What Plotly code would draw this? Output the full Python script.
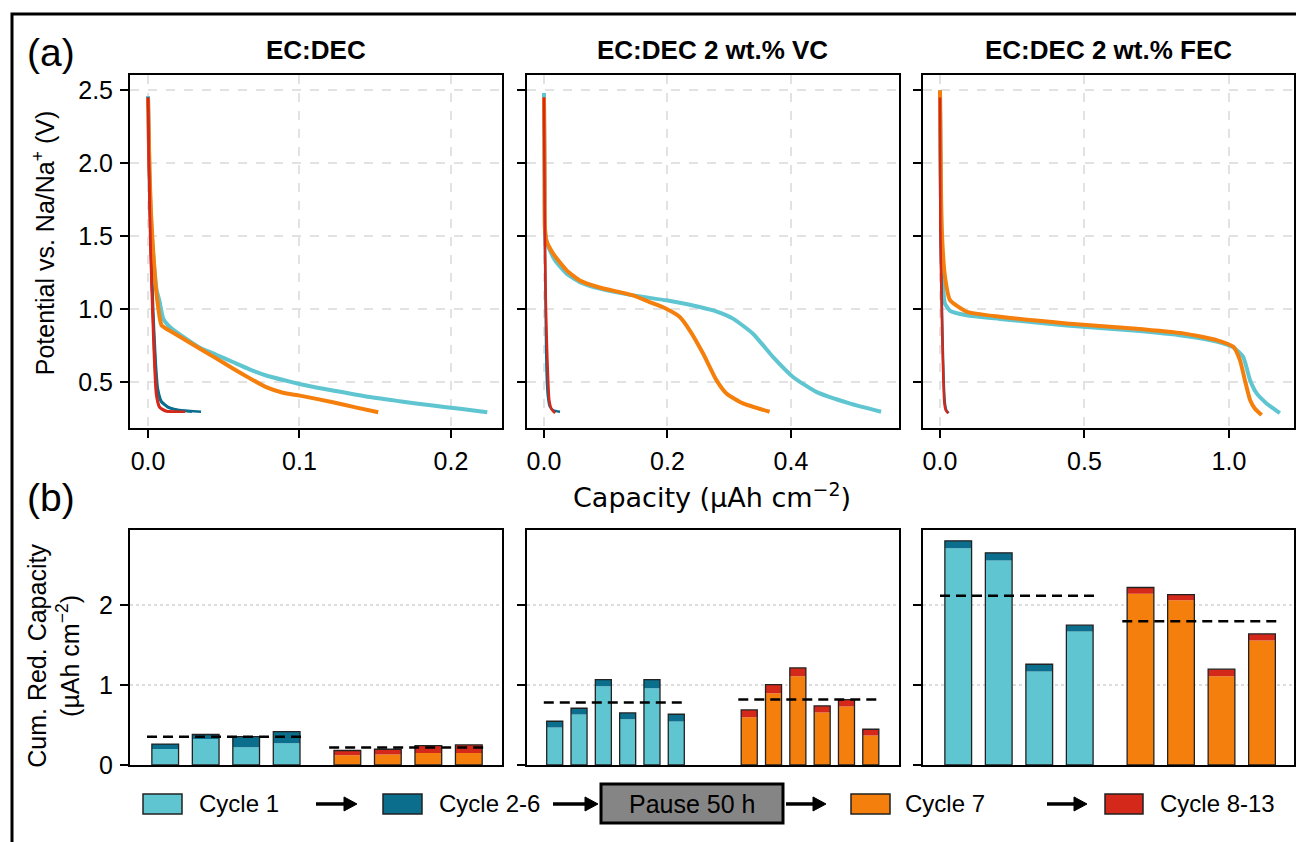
import plotly.graph_objects as go

W, H = 1296, 842
HE = 827  # effective vertical pixel scale observed in the rendered page
def px(x): return x / W
def py(y): return 1 - y / HE

CYAN = "#5ec5d1"; TEAL = "#0b6e8d"; ORANGE = "#f47f0c"; RED = "#d4281a"
FONT = "Liberation Sans, Arial, sans-serif"

titles = ["EC:DEC", "EC:DEC 2 wt.% VC", "EC:DEC 2 wt.% FEC"]

# ---------------- (a) potential profiles ----------------
# EC:DEC
p1_c1_cap = [0, 0.0004, 0.0008, 0.0014, 0.0024, 0.0040, 0.0057, 0.0075, 0.0101, 0.015, 0.025, 0.034, 0.045, 0.056, 0.067, 0.078, 0.09, 0.1, 0.111, 0.122, 0.144, 0.166, 0.188, 0.206, 0.224]
p1_c1_v   = [2.46, 2.25, 1.98, 1.75, 1.52, 1.30, 1.13, 1.06, 0.936, 0.875, 0.80, 0.74, 0.69, 0.64, 0.59, 0.548, 0.515, 0.49, 0.466, 0.445, 0.404, 0.372, 0.342, 0.32, 0.297]
p1_c7_cap = [0, 0.0005, 0.001, 0.002, 0.0035, 0.005, 0.0065, 0.008, 0.009, 0.02, 0.0343, 0.045, 0.0563, 0.067, 0.078, 0.089, 0.1003, 0.122, 0.137, 0.152]
p1_c7_v   = [2.443, 2.2, 1.95, 1.65, 1.38, 1.17, 1.03, 0.925, 0.89, 0.82, 0.731, 0.665, 0.594, 0.53, 0.468, 0.43, 0.41, 0.365, 0.33, 0.297]
p1_c26 = [
    ([0, 0.0008, 0.002, 0.0035, 0.005, 0.0065, 0.009, 0.014, 0.022, 0.035], [2.45, 2.0, 1.45, 0.98, 0.66, 0.46, 0.37, 0.33, 0.31, 0.30]),
    ([0, 0.0007, 0.0018, 0.0032, 0.0047, 0.006, 0.0085, 0.013, 0.02, 0.029], [2.45, 2.0, 1.45, 0.98, 0.66, 0.46, 0.37, 0.33, 0.31, 0.30]),
]
p1_c813 = [
    ([0, 0.0006, 0.0015, 0.0024, 0.004, 0.0057, 0.0079, 0.0123, 0.018, 0.0244], [2.45, 2.0, 1.5, 1.2, 0.74, 0.42, 0.33, 0.305, 0.30, 0.30]),
    ([0, 0.0006, 0.0014, 0.0022, 0.0037, 0.0053, 0.0074, 0.011, 0.015, 0.020], [2.45, 2.0, 1.5, 1.2, 0.74, 0.42, 0.33, 0.305, 0.30, 0.30]),
]
# EC:DEC 2 wt.% VC
p2_c1_cap = [0, 0.0005, 0.001, 0.0016, 0.0035, 0.007, 0.018, 0.0367, 0.0582, 0.0905, 0.1444, 0.1983, 0.2522, 0.28, 0.3061, 0.3385, 0.3708, 0.4032, 0.441, 0.4948, 0.546]
p2_c1_v   = [2.48, 2.2, 1.9, 1.55, 1.48, 1.43, 1.335, 1.244, 1.187, 1.142, 1.096, 1.062, 1.016, 0.985, 0.937, 0.834, 0.675, 0.538, 0.436, 0.357, 0.30]
p2_c7_cap = [0, 0.0005, 0.001, 0.0016, 0.004, 0.0151, 0.0367, 0.058, 0.09, 0.144, 0.171, 0.198, 0.22, 0.236, 0.2577, 0.2793, 0.2955, 0.3224, 0.3654]
p2_c7_v   = [2.45, 2.2, 1.9, 1.55, 1.47, 1.38, 1.267, 1.198, 1.15, 1.096, 1.05, 1.005, 0.948, 0.857, 0.698, 0.516, 0.425, 0.357, 0.30]
p2_c26 = [
    ([0, 0.0008, 0.0016, 0.0028, 0.004, 0.006, 0.009, 0.015, 0.026], [2.45, 1.9, 1.4, 0.95, 0.6, 0.42, 0.34, 0.31, 0.30]),
]
p2_c813 = [
    ([0, 0.0008, 0.0016, 0.0028, 0.0045, 0.0065, 0.0086, 0.012, 0.018], [2.45, 1.9, 1.46, 1.1, 0.8, 0.55, 0.38, 0.32, 0.29]),
]
# EC:DEC 2 wt.% FEC
p3_c1_cap = [0, 0.001, 0.003, 0.006, 0.011, 0.017, 0.035, 0.092, 0.2076, 0.438, 0.669, 0.842, 0.957, 1.015, 1.049, 1.073, 1.096, 1.13, 1.176]
p3_c1_v   = [2.5, 2.3, 1.8, 1.43, 1.15, 1.04, 0.99, 0.96, 0.935, 0.89, 0.855, 0.82, 0.78, 0.74, 0.676, 0.516, 0.425, 0.357, 0.29]
p3_c7_cap = [0, 0.001, 0.003, 0.0058, 0.0173, 0.0346, 0.0924, 0.2076, 0.438, 0.669, 0.842, 0.957, 1.015, 1.038, 1.055, 1.073, 1.09, 1.113]
p3_c7_v   = [2.5, 2.3, 1.9, 1.565, 1.223, 1.064, 0.984, 0.95, 0.904, 0.87, 0.836, 0.79, 0.744, 0.653, 0.516, 0.38, 0.32, 0.277]
p3_c26 = [
    ([0, 0.001, 0.005, 0.009, 0.013, 0.017, 0.022, 0.030], [2.45, 1.6, 1.2, 0.8, 0.5, 0.36, 0.31, 0.29]),
]
p3_c813 = [
    ([0, 0.001, 0.004, 0.008, 0.012, 0.015, 0.02, 0.028], [2.45, 1.6, 1.2, 0.8, 0.5, 0.36, 0.31, 0.29]),
]

profiles = [
    (p1_c1_cap, p1_c1_v, p1_c26, p1_c7_cap, p1_c7_v, p1_c813),
    (p2_c1_cap, p2_c1_v, p2_c26, p2_c7_cap, p2_c7_v, p2_c813),
    (p3_c1_cap, p3_c1_v, p3_c26, p3_c7_cap, p3_c7_v, p3_c813),
]
top_xticks = [[0, 0.1, 0.2], [0, 0.2, 0.4], [0, 0.5, 1.0]]
top_xranges = [[-0.0119, 0.2337], [-0.0275, 0.575], [-0.0588, 1.225]]
top_yticks = [0.5, 1.0, 1.5, 2.0, 2.5]

# ---------------- (b) cumulative reduction capacity ----------------
p1_cyc1   = [0.20, 0.325, 0.22, 0.27]
p1_cyc26  = [0.06, 0.055, 0.134, 0.147]
p1_cyc7   = [0.12, 0.13, 0.15, 0.15]
p1_cyc813 = [0.06, 0.066, 0.09, 0.10]
p2_cyc1   = [0.467, 0.63, 0.983, 0.571, 0.958, 0.542]
p2_cyc26  = [0.079, 0.078, 0.084, 0.079, 0.109, 0.091]
p2_cyc7   = [0.596, 0.896, 1.108, 0.654, 0.729, 0.367]
p2_cyc813 = [0.0915, 0.108, 0.1045, 0.0835, 0.088, 0.079]
p3_cyc1   = [2.708, 2.554, 1.167, 1.667]
p3_cyc26  = [0.092, 0.096, 0.091, 0.079]
p3_cyc7   = [2.1375, 2.058, 1.108, 1.554]
p3_cyc813 = [0.0795, 0.071, 0.088, 0.0835]

bars = [
    ([0, 1, 2, 3], p1_cyc1, p1_cyc26, [4.5, 5.5, 6.5, 7.5], p1_cyc7, p1_cyc813),
    ([0, 1, 2, 3, 4, 5], p2_cyc1, p2_cyc26, [8, 9, 10, 11, 12, 13], p2_cyc7, p2_cyc813),
    ([0, 1, 2, 3], p3_cyc1, p3_cyc26, [4.5, 5.5, 6.5, 7.5], p3_cyc7, p3_cyc813),
]
bot_xranges = [[-0.87, 8.32], [-1.14, 14.16], [-0.87, 8.29]]
bot_yticks = [0, 1, 2]

legend_labels = ["Cycle 1", "Cycle 2-6", "Cycle 7", "Cycle 8-13"]
pause_label = "Pause 50 h"

# ---------------- layout geometry (pixels) ----------------
xdom_px = [(130, 502), (527, 899), (923, 1294)]
top_px = (75, 427)
bot_px = (529, 764)

fig = go.Figure()

def axname(i):
    return "" if i == 1 else str(i)

layout = dict(
    width=W, height=H, margin=dict(l=0, r=0, t=0, b=0),
    paper_bgcolor="white", plot_bgcolor="white", showlegend=False,
    barmode="overlay", font=dict(family=FONT, size=25, color="black"),
)

common = dict(showline=True, linecolor="black", linewidth=2, mirror=True,
              ticks="outside", ticklen=8, tickwidth=2, tickcolor="black",
              zeroline=False, tickfont=dict(family=FONT, size=25, color="black"))

for k in range(3):
    i = k + 1
    xa, ya = "x" + axname(i), "y" + axname(i)
    c1x, c1y, c26, c7x, c7y, c813 = profiles[k]
    fig.add_trace(go.Scatter(x=c1x, y=c1y, mode="lines", line=dict(color=CYAN, width=4, shape="spline", smoothing=0.5), xaxis=xa, yaxis=ya))
    for cx, cy in c26:
        fig.add_trace(go.Scatter(x=cx, y=cy, mode="lines", line=dict(color=TEAL, width=2.5, shape="spline", smoothing=0.5), xaxis=xa, yaxis=ya))
    fig.add_trace(go.Scatter(x=c7x, y=c7y, mode="lines", line=dict(color=ORANGE, width=4, shape="spline", smoothing=0.5), xaxis=xa, yaxis=ya))
    for cx, cy in c813:
        fig.add_trace(go.Scatter(x=cx, y=cy, mode="lines", line=dict(color=RED, width=2.5, shape="spline", smoothing=0.5), xaxis=xa, yaxis=ya))
    x0, x1 = xdom_px[k]
    layout["xaxis" + axname(i)] = dict(common, domain=[px(x0), px(x1)], anchor=ya, range=top_xranges[k],
                                       tickvals=top_xticks[k], tickformat=".1f", ticklabelstandoff=2,
                                       showgrid=True, gridcolor="#e2e2e2", gridwidth=1.5, griddash="dash")
    layout["yaxis" + axname(i)] = dict(common, domain=[py(top_px[1]), py(top_px[0])], anchor=xa, range=[0.192, 2.603],
                                       tickvals=top_yticks, tickformat=".1f", showticklabels=(k == 0), ticklabelstandoff=2,
                                       showgrid=True, gridcolor="#e2e2e2", gridwidth=1.5, griddash="dash")

for k in range(3):
    i = k + 4
    xa, ya = "x" + axname(i), "y" + axname(i)
    xa_pos, a1, a2, xb_pos, b1, b2 = bars[k]
    for xs, base_v, add_v, col1, col2 in [(xa_pos, a1, a2, CYAN, TEAL), (xb_pos, b1, b2, ORANGE, RED)]:
        tot = [u + v for u, v in zip(base_v, add_v)]
        fig.add_trace(go.Bar(x=xs, y=base_v, width=0.66, marker=dict(color=col1, line=dict(width=0)), xaxis=xa, yaxis=ya))
        fig.add_trace(go.Bar(x=xs, y=add_v, base=base_v, width=0.66, marker=dict(color=col2, line=dict(width=0)), xaxis=xa, yaxis=ya))
        fig.add_trace(go.Bar(x=xs, y=tot, width=0.66, marker=dict(color="rgba(0,0,0,0)", line=dict(width=1.3, color="#222222")), xaxis=xa, yaxis=ya))
        m = sum(tot) / len(tot)
        fig.add_trace(go.Scatter(x=[xs[0] - 0.45, xs[-1] + 0.45], y=[m, m], mode="lines",
                                 line=dict(color="black", width=2.5, dash="10px,6px"), xaxis=xa, yaxis=ya))
    x0, x1 = xdom_px[k]
    layout["xaxis" + axname(i)] = dict(common, domain=[px(x0), px(x1)], anchor=ya, range=bot_xranges[k],
                                       ticks="", showticklabels=False, showgrid=False)
    layout["yaxis" + axname(i)] = dict(common, domain=[py(bot_px[1]), py(bot_px[0])], anchor=xa, range=[0, 2.94],
                                       tickvals=bot_yticks, showticklabels=(k == 0), ticklabelstandoff=2,
                                       showgrid=True, gridcolor="#dddddd", gridwidth=1.5, griddash="dot")

ann = []
for k in range(3):
    x0, x1 = xdom_px[k]
    ann.append(dict(text="<b>" + titles[k] + "</b>", x=px((x0 + x1) / 2), y=py(50), xref="paper", yref="paper",
                    showarrow=False, font=dict(family=FONT, size=26), xanchor="center", yanchor="middle"))
ann.append(dict(text="(a)", x=px(51), y=py(52), xref="paper", yref="paper", showarrow=False,
                font=dict(family=FONT, size=39), xanchor="center", yanchor="middle"))
ann.append(dict(text="(b)", x=px(51), y=py(497), xref="paper", yref="paper", showarrow=False,
                font=dict(family=FONT, size=39), xanchor="center", yanchor="middle"))
ann.append(dict(text="Potential vs. Na/Na<sup>+</sup> (V)", x=px(44), y=py(243), xref="paper", yref="paper",
                showarrow=False, textangle=-90, font=dict(family=FONT, size=25), xanchor="center", yanchor="middle"))
ann.append(dict(text="Capacity (µAh cm<sup>−2</sup>)", x=px(712), y=py(495), xref="paper", yref="paper",
                showarrow=False, font=dict(family="DejaVu Sans", size=27), xanchor="center", yanchor="middle"))
ann.append(dict(text="Cum. Red. Capacity<br>(µAh cm<sup>−2</sup>)", x=px(54), y=py(655), xref="paper", yref="paper",
                showarrow=False, textangle=-90, font=dict(family=FONT, size=25), xanchor="center", yanchor="middle"))

shapes = []
# figure frame
shapes.append(dict(type="rect", xref="paper", yref="paper", x0=px(12), x1=px(1310), y0=py(870), y1=py(14),
                   line=dict(color="black", width=3), fillcolor="rgba(0,0,0,0)", layer="above"))

# legend row
ly = 803
boxes = [(143, 182, CYAN, 197), (383, 422, TEAL, 437), (851, 890, ORANGE, 903), (1105, 1143, RED, 1158)]
for (bx0, bx1, col, tx), lab in zip(boxes, legend_labels):
    shapes.append(dict(type="rect", xref="paper", yref="paper", x0=px(bx0), x1=px(bx1), y0=py(ly + 10), y1=py(ly - 10),
                       line=dict(color="#222222", width=1.5), fillcolor=col))
    ann.append(dict(text=lab, x=px(tx), y=py(ly), xref="paper", yref="paper", showarrow=False,
                    font=dict(family=FONT, size=24), xanchor="left", yanchor="middle"))
# pause box
shapes.append(dict(type="rect", xref="paper", yref="paper", x0=px(601), x1=px(783), y0=py(822), y1=py(783),
                   line=dict(color="black", width=3), fillcolor="#858585"))
ann.append(dict(text=pause_label, x=px(692), y=py(803), xref="paper", yref="paper", showarrow=False,
                font=dict(family=FONT, size=25), xanchor="center", yanchor="middle"))
# arrows
for ax0, ax1 in [(316, 357), (553, 598), (786, 826), (1047, 1087)]:
    shapes.append(dict(type="line", xref="paper", yref="paper", x0=px(ax0), x1=px(ax1 - 10), y0=py(ly), y1=py(ly),
                       line=dict(color="black", width=3.5)))
    path = "M {} {} L {} {} L {} {} Z".format(px(ax1 - 13), py(ly - 7), px(ax1), py(ly), px(ax1 - 13), py(ly + 7))
    shapes.append(dict(type="path", xref="paper", yref="paper", path=path, fillcolor="black", line=dict(color="black", width=1)))

layout["annotations"] = ann
layout["shapes"] = shapes
fig.update_layout(**layout)
fig.write_html("out.html")
